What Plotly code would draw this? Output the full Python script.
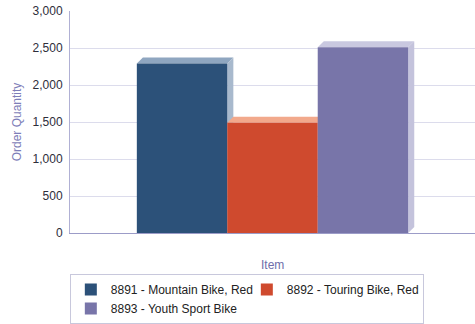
import plotly.graph_objects as go

items = ["8891 - Mountain Bike, Red", "8892 - Touring Bike, Red", "8893 - Youth Sport Bike"]
quantities = [2290, 1490, 2510]
front_colors = ["#2c5179", "#cf4a2e", "#7875a9"]
top_colors = ["#8fa6c0", "#f2a98c", "#c9c8e0"]
side_colors = ["#a8b9cd", "#e79a7c", "#c4c3dc"]
x_title = "Item"
y_title = "Order Quantity"

bargap = 0.33
group_w = 1 - bargap
bar_w = group_w / len(items)
dx = 0.015   # depth in x data units
dy = 80      # depth in y data units

fig = go.Figure()
for i, (name, q, c) in enumerate(zip(items, quantities, front_colors)):
    fig.add_trace(go.Bar(x=[0], y=[q], name=name, marker=dict(color=c, line=dict(width=0)),
                         width=bar_w, offsetgroup=str(i)))

shapes = []
for i, q in enumerate(quantities):
    x0 = -group_w / 2 + i * bar_w
    x1 = x0 + bar_w
    shapes.append(dict(type="path", xref="x", yref="y", layer="between",
                       path=f"M {x0},{q} L {x1},{q} L {x1+dx},{q+dy} L {x0+dx},{q+dy} Z",
                       fillcolor=top_colors[i], line=dict(width=0)))
    shapes.append(dict(type="path", xref="x", yref="y", layer="between",
                       path=f"M {x1},0 L {x1},{q} L {x1+dx},{q+dy} L {x1+dx},{dy} Z",
                       fillcolor=side_colors[i], line=dict(width=0)))

fig.update_layout(
    width=475, height=324,
    margin=dict(l=70, r=0, t=11, b=91, autoexpand=False),
    paper_bgcolor="white", plot_bgcolor="white",
    barmode="group", bargap=bargap,
    font=dict(family="Liberation Sans, Arial, sans-serif", size=12, color="#333333"),
    shapes=shapes,
    showlegend=True,
    legend=dict(orientation="h", xref="container", yref="container",
                x=0.147, y=0.0, xanchor="left", yanchor="bottom",
                bordercolor="#c8c8dc", borderwidth=1, entrywidth=131,
                tracegroupgap=0, itemwidth=30,
                font=dict(size=12, color="#222222"), itemclick=False),
    annotations=[dict(text=x_title, xref="paper", yref="paper", x=0.5, y=-0.145,
                      xanchor="center", yanchor="middle", showarrow=False,
                      font=dict(size=12, color="#6e6eaa"))],
    xaxis=dict(range=[-0.5, 0.5], showticklabels=False, showgrid=False, zeroline=False,
               showline=True, linecolor="#9c9cc8", linewidth=1),
    yaxis=dict(range=[0, 3000], dtick=500, tickformat=",", showgrid=True, gridcolor="#dcdcec",
               zeroline=False, showline=True, linecolor="#b0b0d4", linewidth=1,
               ticks="", ticklabelstandoff=4,
               tickfont=dict(size=12, color="#2e2e3a"),
               title=dict(text=y_title, font=dict(size=12, color="#7e7eb8"), standoff=8)),
)

fig.write_html("out.html", config={"displayModeBar": False},
               post_script="document.body.style.margin='0';")
